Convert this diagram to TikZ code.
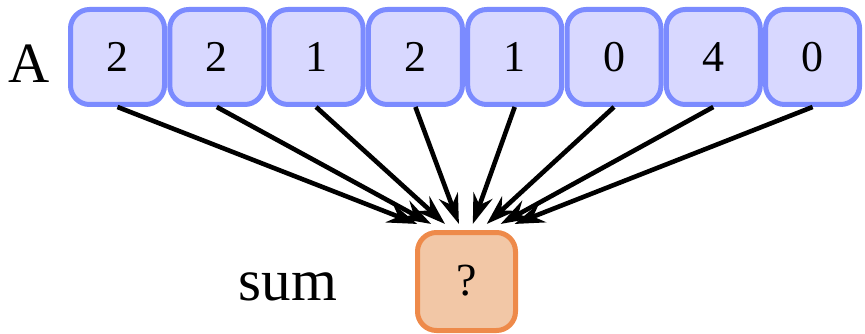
\documentclass[tikz,border=0pt]{standalone}
\usepackage{fontspec}
\setmainfont{Liberation Serif}
\usetikzlibrary{arrows.meta,calc}
\definecolor{bluebd}{HTML}{7B8BFF}
\definecolor{bluefill}{HTML}{D8D8FF}
\definecolor{orgbd}{HTML}{EE8A4A}
\definecolor{orgfill}{HTML}{F2C7A6}
\begin{document}
\begin{tikzpicture}[x=1pt,y=-1pt,
  abox/.style={draw=bluebd,fill=bluefill,line width=5pt,rounded corners=19pt,
    minimum width=94pt,minimum height=95pt,inner sep=0pt,font=\fontsize{44}{44}\selectfont},
  sbox/.style={draw=orgbd,fill=orgfill,line width=5pt,rounded corners=19pt,
    minimum width=98pt,minimum height=98pt,inner sep=0pt},
  lbl/.style={anchor=base,inner sep=0pt,font=\fontsize{57}{57}\selectfont},
  conn/.style={line width=4.6pt,-{Stealth[length=30pt,width=20pt,inset=10pt]}}]
\useasboundingbox (0,0) rectangle (865,334);
\node[lbl] (A) at (29,83) {A};
\foreach \v [count=\i] in {2,2,1,2,1,0,4,0}{
  \node[abox] (a\i) at ({117.5+99.3*(\i-1)},57) {\v};
}
\node[sbox] (sum) at (466.5,281.5) {};
\node[anchor=base,inner sep=0pt,font=\fontsize{46}{46}\selectfont] (q) at (466.5,295) {?};
\node[lbl,font=\fontsize{59}{59}\selectfont] (sumlbl) at (288,300) {sum};
\coordinate (P) at (466,243);
\foreach \i in {1,...,8}{
  \draw[conn] (a\i.south) -- ($(a\i.south)!0.86!(P)$);
}
\end{tikzpicture}
\end{document}
